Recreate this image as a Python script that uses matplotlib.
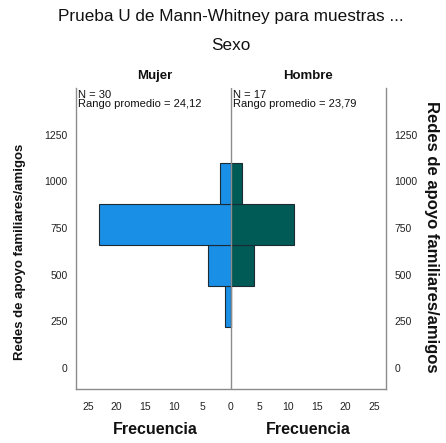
import matplotlib
matplotlib.use("Agg")
import matplotlib.pyplot as plt
import numpy as np

plt.rcParams['font.family'] = ['Liberation Sans', 'DejaVu Sans']

# Histogram bins (Redes de apoyo familiares/amigos)
bin_edges = [220, 440, 660, 880, 1100]
mujer_counts = [1, 4, 23, 2]
hombre_counts = [0, 4, 11, 2]
groups = ["Mujer", "Hombre"]
n_values = [30, 17]
mean_ranks = ["24,12", "23,79"]
y_ticks = [0, 250, 500, 750, 1000, 1250]
x_ticks = [-25, -20, -15, -10, -5, 0, 5, 10, 15, 20, 25]

W, H = 446, 443
fig = plt.figure(figsize=(W / 100, H / 100), dpi=100)

def fx(px):
    return px / W

def fy(py):
    return 1 - py / H

ax = fig.add_axes([fx(76), fy(389), fx(386) - fx(76), fy(88) - fy(389)])

edges = np.array(bin_edges)
centers = (edges[:-1] + edges[1:]) / 2
height = np.diff(edges)

ax.barh(centers, -np.array(mujer_counts), height=height, color="#1a8fe6",
        edgecolor="#1c2b33", linewidth=0.8, zorder=2)
ax.barh(centers, hombre_counts, height=height, color="#005a56",
        edgecolor="#1c2b33", linewidth=0.8, zorder=2)

ax.axvline(0, color="#8c8c8c", linewidth=1, zorder=3)

ax.set_xlim(-27.1, 27.1)
ax.set_ylim(-112, 1500)

ax.set_yticks(y_ticks)
ax.set_yticklabels([str(t) for t in y_ticks])
ax.set_xticks(x_ticks)
ax.set_xticklabels([str(abs(t)) for t in x_ticks])
ax.tick_params(axis="both", length=0, labelsize=7.5, colors="#222222")
ax.tick_params(axis="y", labelright=True, pad=6)
ax.tick_params(axis="x", pad=9)

for side in ["left", "right", "bottom"]:
    ax.spines[side].set_color("#8c8c8c")
    ax.spines[side].set_linewidth(1)
ax.spines["top"].set_visible(False)

# headers
fig.text(fx(231), fy(17), "Prueba U de Mann-Whitney para muestras ...",
         ha="center", va="center", fontsize=12.3, color="#111111")
fig.text(fx(231), fy(46), "Sexo", ha="center", va="center",
         fontsize=12.3, color="#111111")

group_x = [155, 308]
info_x = [78, 233]
for g, gx, ix, n, r in zip(groups, group_x, info_x, n_values, mean_ranks):
    fig.text(fx(gx), fy(76), g, ha="center", va="center", fontsize=9.5,
             fontweight="bold", color="#111111")
    fig.text(fx(ix), fy(95), f"N = {n}", ha="left", va="center",
             fontsize=8, color="#111111")
    fig.text(fx(ix), fy(104), f"Rango promedio = {r}", ha="left",
             va="center", fontsize=8, color="#111111")
    fig.text(fx(gx), fy(430), "Frecuencia", ha="center", va="center",
             fontsize=11.5, fontweight="bold", color="#111111")

fig.text(fx(20), fy(252), "Redes de apoyo familiares/amigos", rotation=90,
         ha="center", va="center", fontsize=9.5, fontweight="bold",
         color="#111111")
fig.text(fx(432), fy(237), "Redes de apoyo familiares/amigos", rotation=270,
         ha="center", va="center", fontsize=12, fontweight="bold",
         color="#111111")

fig.savefig("out.png", dpi=100)
